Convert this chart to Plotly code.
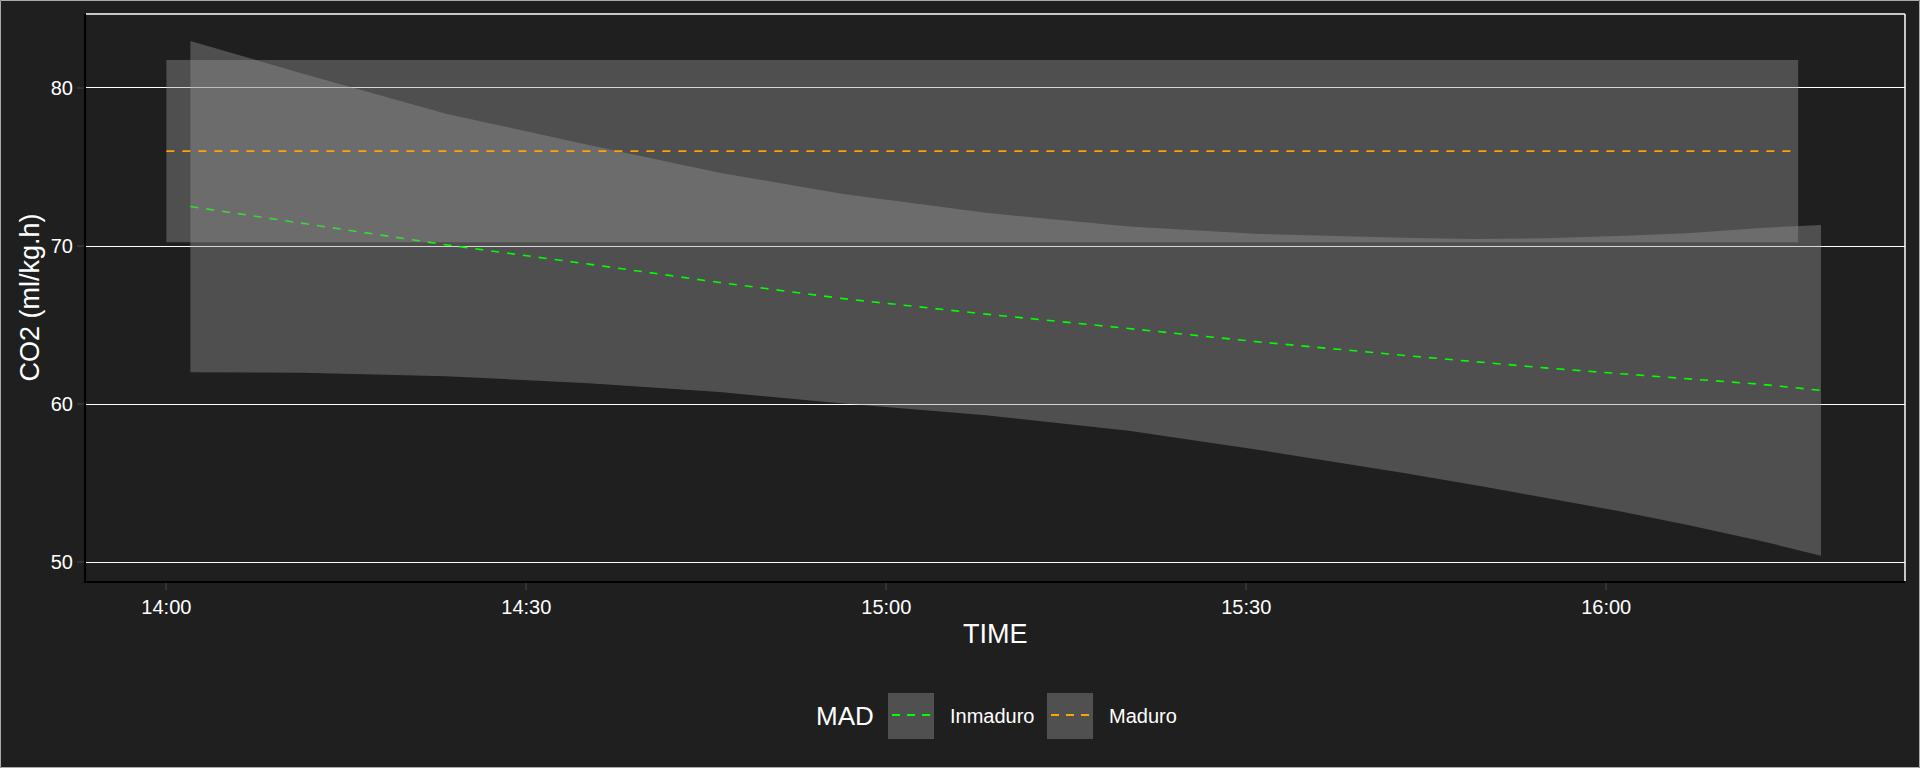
import plotly.graph_objects as go
import pandas as pd

# ---------------- data ----------------
BASE = pd.Timestamp("2024-01-01 14:00:00")

# Inmaduro smooth (minutes after 14:00)
inm_minutes = [2.0, 11.4, 23.3, 35.2, 46.1, 56.4, 68.3, 80.2, 91.1, 103.0, 109.0, 114.9, 120.9, 126.8, 132.8, 137.9]
inm_fit     = [72.50, 71.45, 70.08, 68.86, 67.70, 66.68, 65.70, 64.79, 63.94, 63.10, 62.68, 62.30, 61.95, 61.59, 61.27, 60.88]
inm_upper   = [82.96, 80.90, 78.37, 76.39, 74.63, 73.30, 72.10, 71.24, 70.77, 70.52, 70.45, 70.50, 70.63, 70.81, 71.15, 71.33]
inm_lower   = [62.03, 61.99, 61.78, 61.33, 60.77, 60.05, 59.30, 58.33, 57.11, 55.67, 54.90, 54.09, 53.27, 52.37, 51.38, 50.43]

# Maduro smooth
mad_minutes = [0.0, 136.0]
mad_fit     = [76.0, 76.0]
mad_upper   = [81.76, 81.76]
mad_lower   = [70.25, 70.25]

series_names = ["Inmaduro", "Maduro"]
series_colors = ["#00FF00", "#FFA500"]
legend_title = "MAD"
x_title = "TIME"
y_title = "CO2 (ml/kg.h)"
y_ticks = [50, 60, 70, 80]
x_range_minutes = [-6.7, 144.9]
y_range = [48.83, 84.67]

def to_time(mins):
    return [BASE + pd.Timedelta(minutes=m) for m in mins]

BG = "#1F1F1F"
RIBBON = "rgba(153,153,153,0.4)"

fig = go.Figure()

def add_smooth(mins, fit, up, lo, color, name):
    t = to_time(mins)
    fig.add_trace(go.Scatter(
        x=t + t[::-1], y=up + lo[::-1], fill="toself", fillcolor=RIBBON,
        line=dict(width=0), mode="lines", hoverinfo="skip", showlegend=False))
    fig.add_trace(go.Scatter(
        x=t, y=fit, mode="lines", name=name, showlegend=False,
        line=dict(color=color, width=1.6, dash="8px,8px")))

add_smooth(inm_minutes, inm_fit, inm_upper, inm_lower, series_colors[0], series_names[0])
add_smooth(mad_minutes, mad_fit, mad_upper, mad_lower, series_colors[1], series_names[1])

W, H = 1920, 768
L, R, T, B = 86, 15, 14, 187
PW, PH = W - L - R, H - T - B

def px(xp):
    return (xp - L) / PW

def py(yp):
    return (H - B - yp) / PH

shapes = [
    # panel border (top and right, white)
    dict(type="line", xref="paper", yref="paper", x0=0, x1=1, y0=1, y1=1,
         line=dict(color="white", width=1.5), layer="above"),
    dict(type="line", xref="paper", yref="paper", x0=1, x1=1, y0=0, y1=1,
         line=dict(color="white", width=1.5), layer="above"),
    # outer border of the image
    dict(type="rect", xref="paper", yref="paper", x0=px(0.5), x1=px(W - 0.5),
         y0=py(H - 0.5), y1=py(0.5), line=dict(color="#AAAAAA", width=1), layer="below"),
]

annotations = [
    dict(text=y_title, xref="paper", yref="paper", x=px(29), y=0.5, textangle=-90,
         showarrow=False, xanchor="center", yanchor="middle",
         font=dict(size=27, color="white")),
    dict(text=x_title, xref="paper", yref="paper", x=0.5, y=py(634),
         showarrow=False, xanchor="center", yanchor="middle",
         font=dict(size=27, color="white")),
    dict(text=legend_title, xref="paper", yref="paper", x=px(814), y=py(716),
         showarrow=False, xanchor="left", yanchor="middle",
         font=dict(size=26, color="white")),
]

# custom legend keys
key_x = [888, 1047]
label_x = [948, 1107]
for kx, lx, name, col in zip(key_x, label_x, series_names, series_colors):
    shapes.append(dict(type="rect", xref="paper", yref="paper",
                       x0=px(kx), x1=px(kx + 46), y0=py(739), y1=py(693),
                       fillcolor="#505050", line=dict(width=0), layer="above"))
    shapes.append(dict(type="line", xref="paper", yref="paper",
                       x0=px(kx + 4), x1=px(kx + 42), y0=py(715), y1=py(715),
                       line=dict(color=col, width=2, dash="8px,7px"), layer="above"))
    annotations.append(dict(text=name, xref="paper", yref="paper", x=px(lx), y=py(716),
                            showarrow=False, xanchor="left", yanchor="middle",
                            font=dict(size=20, color="white")))

fig.update_layout(
    width=W, height=H,
    margin=dict(l=L, r=R, t=T, b=B, pad=0),
    paper_bgcolor=BG, plot_bgcolor=BG,
    font=dict(family="Liberation Sans, Arial, sans-serif", color="white"),
    showlegend=False,
    shapes=shapes,
    annotations=annotations,
    xaxis=dict(
        type="date",
        range=to_time(x_range_minutes),
        tickformat="%H:%M",
        tick0=BASE, dtick=30 * 60 * 1000,
        showgrid=False, zeroline=False,
        showline=True, linecolor="black", linewidth=2,
        ticks="outside", ticklen=7, tickwidth=1.5, tickcolor="#333333",
        tickfont=dict(size=20, color="white"),
    ),
    yaxis=dict(
        range=y_range,
        tickvals=y_ticks,
        showgrid=True, gridcolor="white", gridwidth=1.1,
        zeroline=False,
        showline=True, linecolor="black", linewidth=2,
        ticks="outside", ticklen=7, tickwidth=1.5, tickcolor="#333333",
        tickfont=dict(size=20, color="white"),
    ),
)

fig.write_html("out.html")
